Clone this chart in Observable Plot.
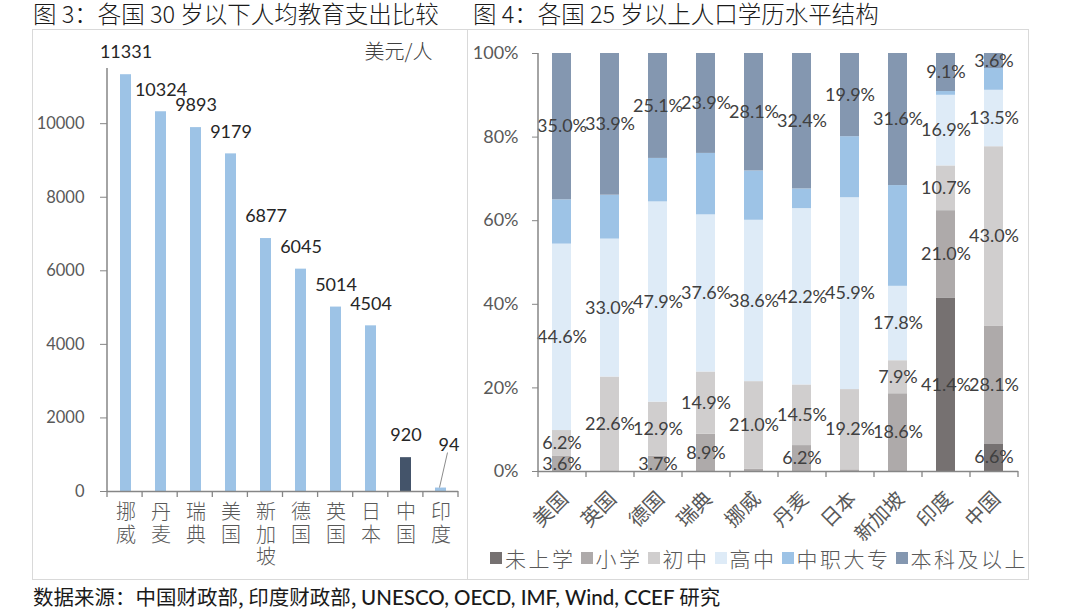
<!DOCTYPE html>
<html>
<head>
<meta charset="utf-8">
<script src="https://cdn.jsdelivr.net/npm/d3@7"></script>
<script src="https://cdn.jsdelivr.net/npm/@observablehq/plot@0.6"></script>
<style>
  html, body { margin: 0; padding: 0; background: #fff; }
  body { width: 1080px; height: 610px; position: relative; overflow: hidden;
         font-family: "Noto Sans CJK SC", "Noto Sans", sans-serif; }
  .title { position: absolute; top: 1px; font-size: 23.5px; color: #1a1a1a; white-space: nowrap;
           line-height: 24px; font-weight: 300; }
  .panel { position: absolute; top: 29px; height: 551px; border: 1px solid #d9d9d9; box-sizing: border-box; }
  .chart { position: absolute; top: 29px; }
  .chart svg { overflow: visible; }
  .legend { position: absolute; top: 543px; left: 490px; display: flex; align-items: center;
            font-size: 21px; color: #595959; white-space: nowrap; font-weight: 300; letter-spacing: 2.5px; }
  .legend .item { display: flex; align-items: center; margin-right: 5px; }
  .legend .sw { width: 12px; height: 12px; margin-right: 3px; }
  .source { position: absolute; left: 33px; top: 583px; font-size: 20.5px; color: #1a1a1a; white-space: nowrap;
            line-height: 26px; }
  .source .lat { font-family: "Lato", "Open Sans", sans-serif; font-size: 20.5px; font-weight: 500; }
</style>
</head>
<body>
<div class="title" style="left:33px">图 3：各国 30 岁以下人均教育支出比较</div>
<div class="title" style="left:473px">图 4：各国 25 岁以上人口学历水平结构</div>
<div class="panel" style="left:32px;width:436px"></div>
<div class="panel" style="left:467px;width:562px"></div>
<div class="chart" id="left" style="left:32px"></div>
<div class="chart" id="right" style="left:467px"></div>
<div class="legend" id="legend"></div>
<div class="source">数据来源：中国财政部, 印度财政部, <span class="lat">UNESCO, OECD, IMF, Wind, CCEF</span> 研究</div>
<script>
// ---------- Figure 3 data ----------
const countries1 = ["挪威", "丹麦", "瑞典", "美国", "新加坡", "德国", "英国", "日本", "中国", "印度"];
const spending = [11331, 10324, 9893, 9179, 6877, 6045, 5014, 4504, 920, 94];
const spendTicks = [0, 2000, 4000, 6000, 8000, 10000];
const spendUnit = "美元/人";
const highlightCountry = "中国";
const leaderCountry = "印度";

// ---------- Figure 4 data ----------
const countries2 = ["美国", "英国", "德国", "瑞典", "挪威", "丹麦", "日本", "新加坡", "印度", "中国"];
const eduLevels = ["未上学", "小学", "初中", "高中", "中职大专", "本科及以上"];
const noSchool   = [0,    0,    0,    0,    0,    0,    0,    0,    41.4, 6.6];
const primary    = [3.6,  0,    3.7,  8.9,  0.5,  6.2,  0.4,  18.6, 21.0, 28.1];
const juniorHigh = [6.2,  22.6, 12.9, 14.9, 21.0, 14.5, 19.2, 7.9,  10.7, 43.0];
const seniorHigh = [44.6, 33.0, 47.9, 37.6, 38.6, 42.2, 45.9, 17.8, 16.9, 13.5];
const vocational = [10.6, 10.5, 10.4, 14.7, 11.8, 4.7,  14.6, 24.1, 0.9,  5.2];
const bachelor   = [35.0, 33.9, 25.1, 23.9, 28.1, 32.4, 19.9, 31.6, 9.1,  3.6];
const pctTicks = [0, 20, 40, 60, 80, 100];
const unlabeledLevel = "中职大专";

// ---------- styles ----------
const eduColors = ["#767171", "#AEAAAA", "#D0CECE", "#DEEBF7", "#9DC3E6", "#8497B0"];
const barLight = "#9DC3E6", barDark = "#44546A";
const axisGray = "#868686", tickText = "#595959";
const latin = "Lato, 'Open Sans', 'Noto Sans CJK SC', sans-serif";
const cjk = "'Noto Sans CJK SC', sans-serif";

function addAxisDecor(svg, n, yTop, leader) {
  const sx = svg.scale("x"), sy = svg.scale("y");
  const [r0, r1] = sx.range;
  const step = (r1 - r0) / n;
  const y0 = sy.apply(0);
  const g = d3.select(svg).append("g").attr("stroke", axisGray).attr("fill", "none");
  g.append("line").attr("x1", r0).attr("x2", r0).attr("y1", y0).attr("y2", sy.apply(yTop)).attr("stroke-width", 1.5);
  for (let i = 0; i <= n; i++) {
    g.append("line").attr("x1", r0 + i * step).attr("x2", r0 + i * step)
      .attr("y1", y0).attr("y2", y0 + 6).attr("stroke-width", 1.3);
  }
  if (leader) {
    const cx = sx.apply(leader.country) + sx.bandwidth / 2;
    const yv = sy.apply(leader.value);
    g.append("line").attr("x1", cx + 7).attr("y1", yv - 35).attr("x2", cx - 1).attr("y2", yv)
      .attr("stroke", "#8c8c8c").attr("stroke-width", 1);
  }
}

// ---------- Figure 3 ----------
const data1 = countries1.map((c, i) => ({country: c, value: spending[i]}));
const left = Plot.plot({
  width: 436, height: 551,
  marginLeft: 75, marginRight: 10, marginTop: 39, marginBottom: 89,
  style: {background: "transparent", fontFamily: latin},
  x: {domain: countries1, paddingInner: 0.69, paddingOuter: 0.345, axis: null},
  y: {domain: [0, 11500], axis: null},
  color: {type: "identity"},
  marks: [
    Plot.barY(data1, {x: "country", y: "value",
      fill: d => d.country === highlightCountry ? barDark : barLight}),
    Plot.ruleY([0], {stroke: axisGray, strokeWidth: 1.5}),
    Plot.axisY({ticks: spendTicks, tickSize: 7, tickPadding: 16, fontSize: 16.5, label: null,
      fill: tickText, stroke: axisGray, tickFormat: d => String(d), fontFamily: latin}),
    Plot.text(data1.filter(d => d.country !== leaderCountry), {x: "country", y: "value",
      text: d => String(d.value), dy: -22, fontSize: 18, fill: "#262626", fontFamily: latin}),
    Plot.text(data1.filter(d => d.country === leaderCountry), {x: "country", y: "value",
      text: d => String(d.value), dy: -43, dx: 8, fontSize: 18, fill: "#262626", fontFamily: latin}),
    Plot.text(countries1, {x: d => d, y: d => 0, text: d => [...d].join("\n"),
      lineAnchor: "top", dy: 12, fontSize: 20, lineHeight: 1.12, fill: tickText, fontFamily: cjk, fontWeight: 300}),
    Plot.text([spendUnit], {frameAnchor: "top-right", text: d => d, dx: -26, dy: -16,
      lineAnchor: "middle", textAnchor: "end", fontSize: 20, fill: "#404040", fontFamily: cjk, fontWeight: 300})
  ]
});
document.getElementById("left").append(left);
addAxisDecor(left, countries1.length, 11500, {country: leaderCountry, value: spending[countries1.indexOf(leaderCountry)]});

// ---------- Figure 4 ----------
const seriesByLevel = [noSchool, primary, juniorHigh, seniorHigh, vocational, bachelor];
const rows = countries2.flatMap((c, i) => eduLevels.map((e, j) => ({country: c, edu: e, value: seriesByLevel[j][i]})));
const right = Plot.plot({
  width: 562, height: 551,
  marginLeft: 71, marginRight: 11, marginTop: 24, marginBottom: 109,
  style: {background: "transparent", fontFamily: latin},
  x: {domain: countries2, paddingInner: 0.6, paddingOuter: 0.3, axis: null},
  y: {domain: [0, 100], axis: null},
  color: {domain: eduLevels, range: eduColors},
  marks: [
    Plot.barY(rows, {x: "country", y: "value", fill: "edu", order: eduLevels}),
    Plot.ruleY([0], {stroke: axisGray, strokeWidth: 1.5}),
    Plot.axisY({ticks: pctTicks, tickSize: 6, tickPadding: 14, fontSize: 18, label: null,
      fill: tickText, stroke: axisGray, tickFormat: d => d + "%", fontFamily: latin}),
    Plot.text(rows, Plot.stackY({x: "country", y: "value", z: "edu", order: eduLevels,
      text: d => (d.edu !== unlabeledLevel && d.value > 1) ? d.value.toFixed(1) + "%" : null,
      fontSize: 18, fill: "#404040", fontFamily: latin})),
    Plot.text(countries2, {x: d => d, y: d => 0, text: d => d, rotate: -45,
      textAnchor: "end", lineAnchor: "middle", dy: 24, dx: 3, fontSize: 20, fill: tickText,
      fontFamily: cjk, fontWeight: 400})
  ]
});
document.getElementById("right").append(right);
addAxisDecor(right, countries2.length, 100, null);

// ---------- legend ----------
const lg = document.getElementById("legend");
eduLevels.forEach((e, i) => {
  const it = document.createElement("div"); it.className = "item";
  const sw = document.createElement("span"); sw.className = "sw"; sw.style.background = eduColors[i];
  const tx = document.createElement("span"); tx.textContent = e;
  it.append(sw, tx); lg.append(it);
});
</script>
</body>
</html>
